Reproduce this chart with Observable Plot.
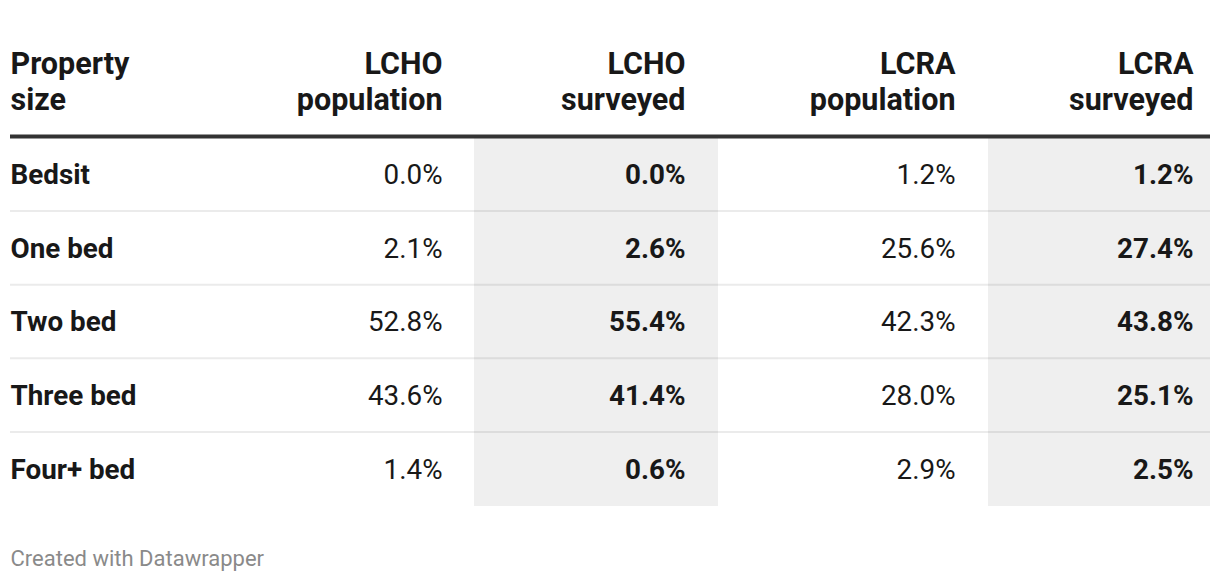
<!DOCTYPE html>
<html>
<head>
<meta charset="utf-8">
<script src="https://cdn.jsdelivr.net/npm/d3@7"></script>
<script src="https://cdn.jsdelivr.net/npm/@observablehq/plot@0.6"></script>
<style>
  html, body { margin: 0; padding: 0; background: #fff; }
  #chart svg { display: block; font-family: Roboto, "Noto Sans", sans-serif; }
</style>
</head>
<body>
<div id="chart"></div>
<script>
// ---- data ----
const sizes = ["Bedsit", "One bed", "Two bed", "Three bed", "Four+ bed"];
const lchoPopulation = [0.0, 2.1, 52.8, 43.6, 1.4];
const lchoSurveyed   = [0.0, 2.6, 55.4, 41.4, 0.6];
const lcraPopulation = [1.2, 25.6, 42.3, 28.0, 2.9];
const lcraSurveyed   = [1.2, 27.4, 43.8, 25.1, 2.5];
const headers = ["Property\nsize", "LCHO\npopulation", "LCHO\nsurveyed", "LCRA\npopulation", "LCRA\nsurveyed"];
const footer = "Created with Datawrapper";

// ---- layout (pixel positions of columns) ----
const colAnchor = [10, 442, 685, 955, 1193];       // text anchor x of each column
const shaded = [{x1: 474, x2: 718}, {x1: 988, x2: 1210}]; // highlighted columns
const tableLeft = 10, tableRight = 1210;

const series = [lchoPopulation, lchoSurveyed, lcraPopulation, lcraSurveyed];
const boldCol = [false, true, false, true];

const cells = [];
sizes.forEach((s, i) => {
  series.forEach((arr, j) => {
    cells.push({row: i, col: j + 1, text: arr[i].toFixed(1) + "%", bold: boldCol[j]});
  });
});
const rowLabels = sizes.map((s, i) => ({row: i, text: s}));
const headerCells = headers.map((h, j) => ({col: j, text: h}));

const textColor = "#181818";
const bodySize = 27.8, headSize = 30.5;

const plot = Plot.plot({
  width: 1220,
  height: 582,
  margin: 0,
  x: {type: "linear", domain: [0, 1220], range: [0, 1220], axis: null},
  y: {type: "linear", domain: [0, sizes.length], range: [138, 506], axis: null},
  style: {fontFamily: "Roboto, 'Noto Sans', sans-serif", background: "#fff"},
  marks: [
    // shaded columns
    Plot.rect(shaded, {x1: "x1", x2: "x2", y1: 0, y2: sizes.length, fill: "#efefef"}),
    // row separators
    Plot.ruleY(d3.range(1, sizes.length), {x1: tableLeft, x2: tableRight, dy: -1, stroke: "#000", strokeOpacity: 0.08, strokeWidth: 2}),
    // thick header rule
    Plot.ruleY([0], {x1: tableLeft, x2: tableRight, dy: -2, stroke: "#333", strokeWidth: 4}),
    // headers
    Plot.text(headerCells.filter(d => d.col === 0), {
      x: (d) => colAnchor[d.col], y: 0, dy: -58, text: "text",
      textAnchor: "start", lineAnchor: "middle", lineHeight: 1.18,
      fontSize: headSize, fontWeight: 700, fill: textColor
    }),
    Plot.text(headerCells.filter(d => d.col > 0), {
      x: (d) => colAnchor[d.col], y: 0, dy: -58, text: "text",
      textAnchor: "end", lineAnchor: "middle", lineHeight: 1.18,
      fontSize: headSize, fontWeight: 700, fill: textColor
    }),
    // row labels
    Plot.text(rowLabels, {
      x: tableLeft, y: (d) => d.row + 0.5, text: "text",
      textAnchor: "start", fontSize: bodySize, fontWeight: 700, fill: textColor
    }),
    // values
    Plot.text(cells.filter(d => !d.bold), {
      x: (d) => colAnchor[d.col], y: (d) => d.row + 0.5, text: "text",
      textAnchor: "end", fontSize: bodySize, fontWeight: 400, fill: textColor
    }),
    Plot.text(cells.filter(d => d.bold), {
      x: (d) => colAnchor[d.col], y: (d) => d.row + 0.5, text: "text",
      textAnchor: "end", fontSize: bodySize, fontWeight: 700, fill: textColor
    }),
    // footer
    Plot.text([footer], {
      x: tableLeft, y: sizes.length, dy: 52, text: (d) => d,
      textAnchor: "start", fontSize: 22, fill: "#8a8a8a"
    })
  ]
});
document.getElementById("chart").append(plot);
</script>
</body>
</html>
